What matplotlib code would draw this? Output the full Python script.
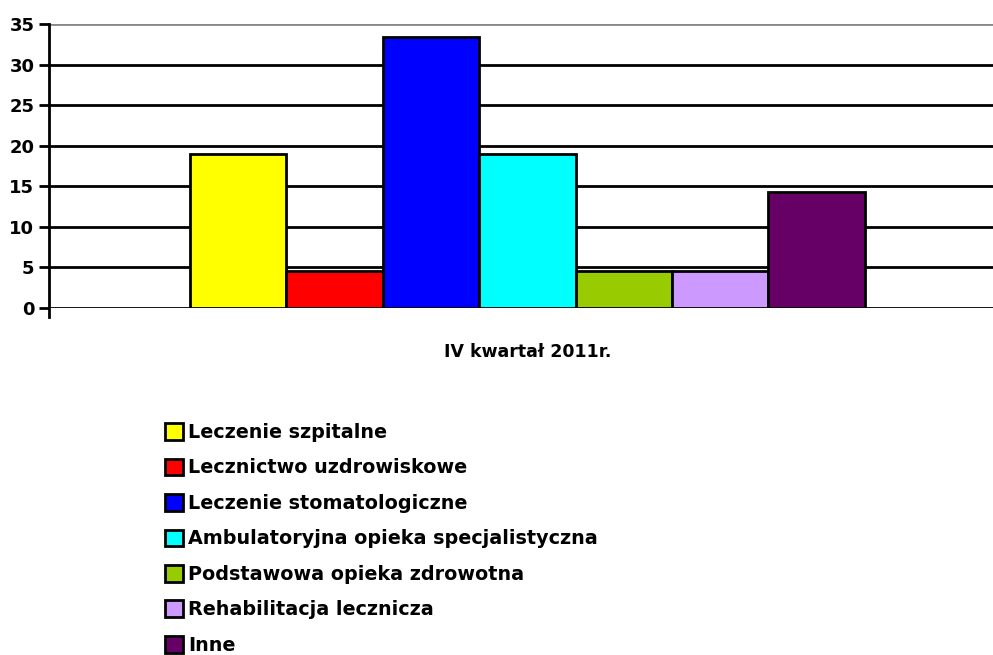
import matplotlib
matplotlib.use('Agg')
import matplotlib.pyplot as plt

categories = ['Leczenie szpitalne', 'Lecznictwo uzdrowiskowe', 'Leczenie stomatologiczne',
              'Ambulatoryjna opieka specjalistyczna', 'Podstawowa opieka zdrowotna',
              'Rehabilitacja lecznicza', 'Inne']
values = [19.0, 4.6, 33.4, 19.0, 4.6, 4.6, 14.3]
colors = ['#FFFF00', '#FF0000', '#0000FF', '#00FFFF', '#99CC00', '#CC99FF', '#660066']
period = 'IV kwartał 2011r.'
yticks = [0, 5, 10, 15, 20, 25, 30, 35]

plt.rcParams['font.family'] = ['DejaVu Sans']
plt.rcParams['font.weight'] = 'bold'

fig = plt.figure(figsize=(9.93, 6.55), dpi=100)
ax = fig.add_axes([0.0493, 0.5298, 0.9637, 0.4332])

x = list(range(len(values)))
bars = ax.bar(x, values, width=1.0, color=colors, edgecolor='black', linewidth=2,
              label=categories, zorder=3)

ax.set_ylim(0, 35)
ax.set_xlim(-1.963, len(values) - 1 + 1.963)
ax.set_yticks(yticks)
ax.set_yticklabels([str(t) for t in yticks], fontsize=13, fontweight='bold')
for t in yticks:
    ax.axhline(t, color='#888888' if t == 35 else 'black', linewidth=2, zorder=1)

ax.set_xticks([(len(values) - 1) / 2])
ax.set_xticklabels([period], fontsize=12.5, fontweight='bold')
ax.tick_params(axis='x', length=0, pad=25)
ax.tick_params(axis='y', length=7, width=2, pad=3.5, direction='out')

for side in ['top', 'right', 'bottom']:
    ax.spines[side].set_visible(False)
ax.spines['left'].set_linewidth(2)
ax.spines['left'].set_bounds(-1.1, 35)
ax.spines['left'].set_clip_on(False)

leg = fig.legend(handles=bars, labels=categories, loc='upper left',
                 bbox_to_anchor=(0.158, 0.366), frameon=False,
                 prop={'size': 13.8, 'weight': 'bold'},
                 handlelength=0.98, handleheight=0.95, handletextpad=0.25,
                 labelspacing=0.86, borderaxespad=0)

fig.savefig('out.png', dpi=100)
